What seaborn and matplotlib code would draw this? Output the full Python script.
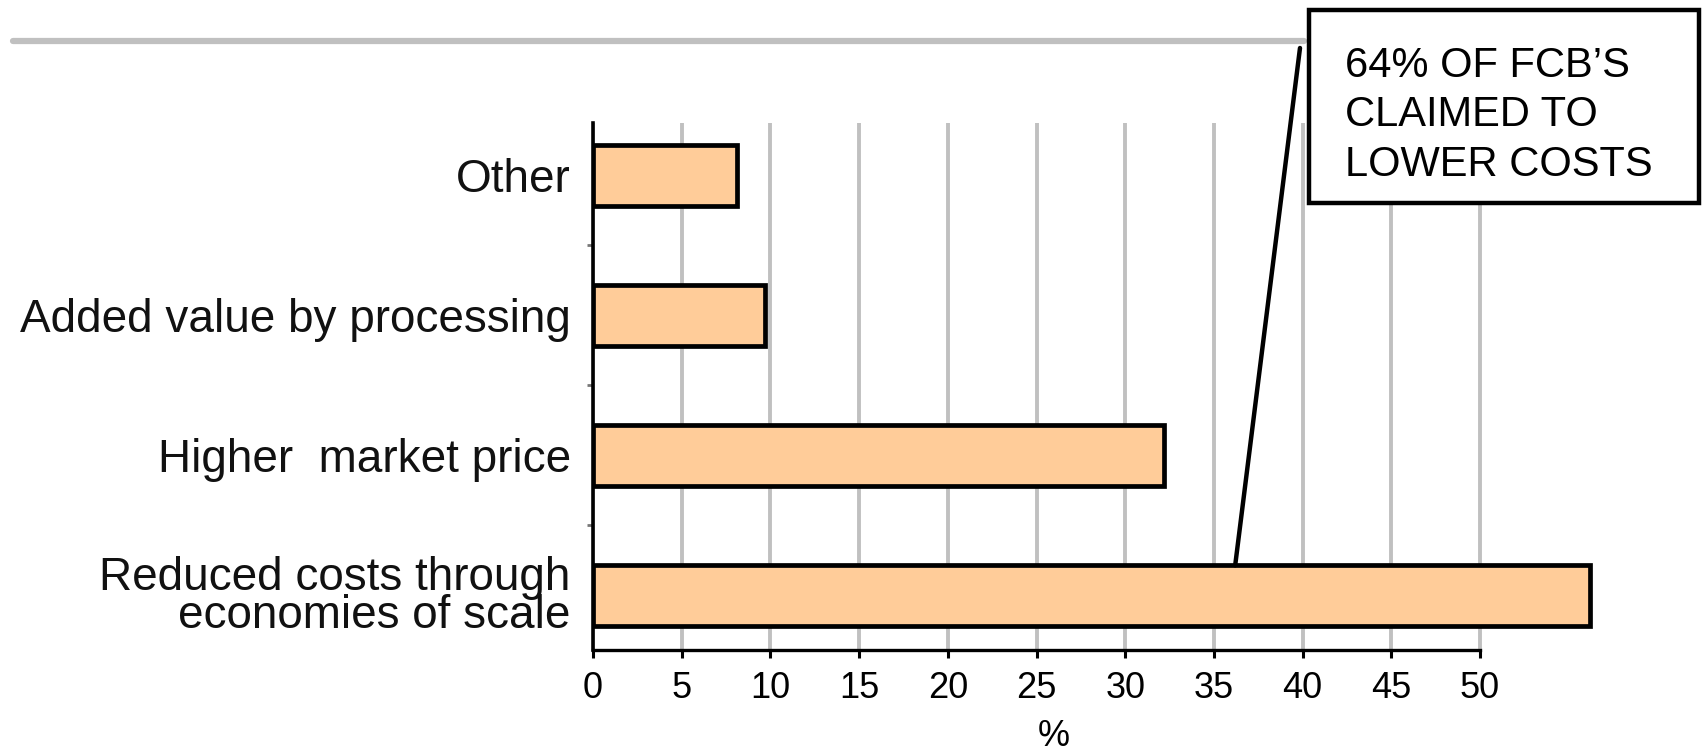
import matplotlib
matplotlib.use("Agg")
import matplotlib.pyplot as plt
from matplotlib.patches import Rectangle
from matplotlib.lines import Line2D
from matplotlib.ticker import FixedLocator
import seaborn as sns
import pandas as pd

# ---- data ----
categories = ["Other", "Added value by processing", "Higher  market price",
              "Reduced costs through\neconomies of scale"]
values = [8.1, 9.7, 32.2, 56.2]
x_ticks = [0, 5, 10, 15, 20, 25, 30, 35, 40, 45, 50]
x_label = "%"
note_lines = ["64% OF FCB\u2019S", "CLAIMED TO", "LOWER COSTS"]
note_target_x = 36.2

sns.set_theme(style="white")
plt.rcParams["font.family"] = ["Liberation Sans", "DejaVu Sans"]

W, H = 1704, 753
fig = plt.figure(figsize=(W / 100, H / 100), dpi=100)
ax = fig.add_axes([593 / W, 1 - 650 / H, 1064.4 / W, 527 / H])

df = pd.DataFrame({"category": categories, "value": values})
bar_w = 0.43
sns.barplot(data=df, x="value", y="category", order=categories, orient="h",
            color="#FFCC99", saturation=1, edgecolor="black", linewidth=3.4,
            width=bar_w, ax=ax, zorder=3)

ax.set_xlim(0, 60)
ax.set_ylim(3.39, -0.375)

# grid
ax.set_xticks(x_ticks)
ax.set_xticklabels([str(t) for t in x_ticks])
ax.xaxis.grid(True, color="#c0c0c0", linewidth=2.8, zorder=0)
ax.yaxis.grid(False)
ax.set_axisbelow(True)

# spines
for s in ["top", "right"]:
    ax.spines[s].set_visible(False)
ax.spines["left"].set_color("black")
ax.spines["left"].set_linewidth(2.6)
ax.spines["bottom"].set_color("black")
ax.spines["bottom"].set_linewidth(2.4)
ax.spines["bottom"].set_bounds(0, 50)

ax.tick_params(axis="x", direction="out", length=6, width=2.2, color="black",
               labelsize=26, pad=9, labelcolor="black", bottom=True)
ax.tick_params(axis="y", which="major", length=0, labelsize=33, pad=16,
               labelcolor="#111111", left=False)
ax.yaxis.set_minor_locator(FixedLocator([0.5, 1.5, 2.5]))
ax.tick_params(axis="y", which="minor", direction="out", length=4, width=2,
               color="#777777", left=True)
for lab in ax.get_yticklabels():
    lab.set_linespacing(0.8)
    lab.set_horizontalalignment("right")

ax.set_ylabel("")
ax.set_xlabel(x_label, fontsize=26, color="black")
ax.xaxis.set_label_coords(26 / 60, -0.13)

# top gray rule
fig.add_artist(Line2D([13 / W, 1304 / W], [1 - 41 / H, 1 - 41 / H],
                      transform=fig.transFigure, color="#c0c0c0", linewidth=4.5))

# leader line
ax.annotate("", xy=(note_target_x, 3 - bar_w / 2), xycoords="data",
            xytext=(1300 / W, 1 - 48 / H), textcoords="figure fraction",
            arrowprops=dict(arrowstyle="-", lw=3.2, color="black",
                            shrinkA=0, shrinkB=0),
            annotation_clip=False)

# note box
fig.add_artist(Rectangle((1309 / W, 1 - 203 / H), (1699 - 1309) / W, (203 - 10) / H,
                         transform=fig.transFigure, facecolor="white",
                         edgecolor="black", linewidth=3.2, zorder=5))
fig.text(1345 / W, 1 - 46 / H, "\n".join(note_lines), fontsize=30,
         ha="left", va="top", color="black", linespacing=1.3, zorder=6)

fig.savefig("out.png", dpi=100)
